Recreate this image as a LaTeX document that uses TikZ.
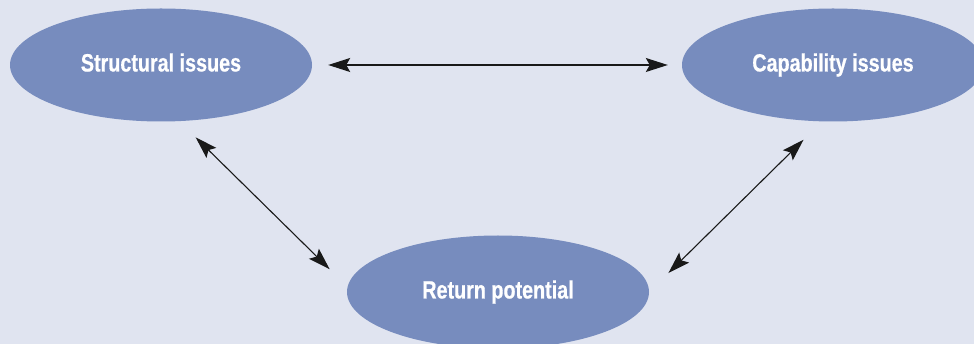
\documentclass[tikz,border=0pt]{standalone}
\usepackage{fontspec}
\usepackage{tikz}
\usetikzlibrary{arrows.meta,positioning,shapes.geometric}
\usepackage{xcolor}
\newfontfamily\labelfont[FakeStretch=0.79,FakeBold=0.6]{Liberation Sans}
\definecolor{issueback}{HTML}{E0E4F0}
\definecolor{issueblue}{HTML}{778CBE}
\tikzset{
  issuebox/.style={
    ellipse,
    fill=issueblue,
    draw=none,
    minimum width=302pt,
    minimum height=113pt,
    inner sep=0pt,
    text height=18pt,
    text depth=5pt,
    text=white,
    font=\labelfont\bfseries\fontsize{25}{29}\selectfont
  },
  arrow/.style={
    {Stealth[length=22pt,width=14pt,inset=4pt]}-{Stealth[length=22pt,width=14pt,inset=4pt]},
    line width=1.1pt,
    draw=black!90
  }
}

\begin{document}
\begin{tikzpicture}[x=1pt,y=-1pt]
\fill[issueback] (0,0) rectangle (974,344);
\useasboundingbox (0,0) rectangle (974,344);
\node[issuebox] (struct) at (161,65) {Structural issues};
\node[issuebox] (cap) at (833,65) {Capability issues};
\node[issuebox] (ret) at (498,292) {Return potential};
\draw[arrow, shorten <=16pt, shorten >=14pt] (struct.east) -- (cap.west);
\draw[arrow, shorten <=23pt, shorten >=25pt] (struct.-72) -- (ret.178);
\draw[arrow, shorten <=26pt, shorten >=27pt] (cap.-101) -- (ret.east);
\end{tikzpicture}
\end{document}
